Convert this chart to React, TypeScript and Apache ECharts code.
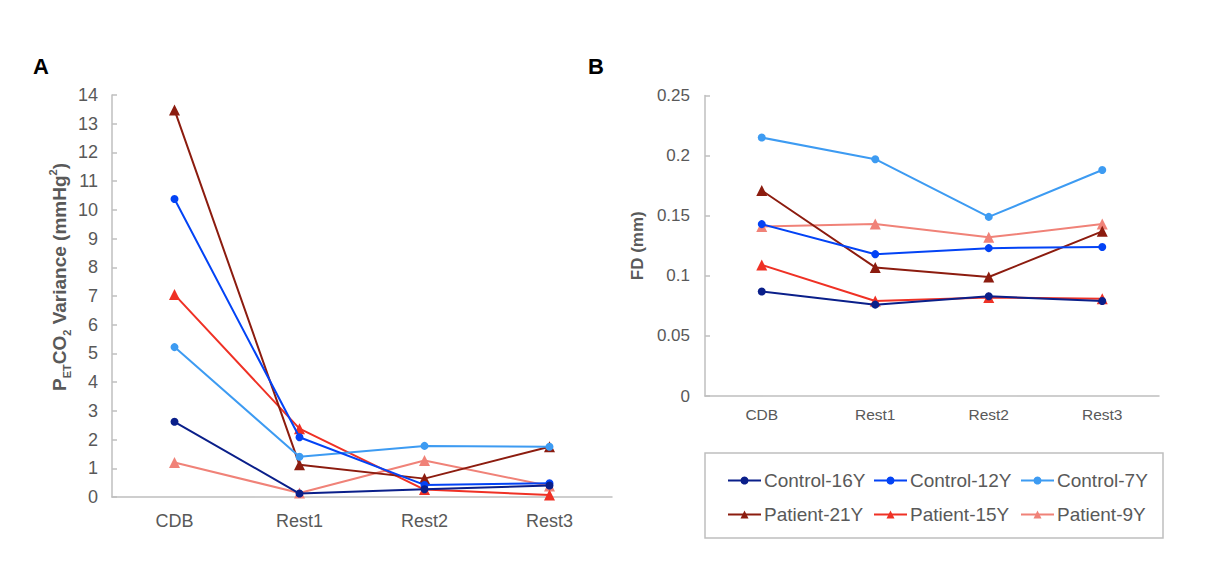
import React, { useEffect, useRef } from "react";
import * as echarts from "echarts";

const categories = ["CDB", "Rest1", "Rest2", "Rest3"];
const seriesNames = ["Control-16Y", "Control-12Y", "Control-7Y", "Patient-21Y", "Patient-15Y", "Patient-9Y"];
const seriesColors = ["#0a1f8a", "#0343f5", "#3d9bf2", "#8c1c0f", "#ef3125", "#f08278"];
const seriesSymbols = ["circle", "circle", "circle", "triangle", "triangle", "triangle"];

// Panel A: PETCO2 variance (mmHg^2)
const varControl16 = [2.62, 0.12, 0.27, 0.4];
const varControl12 = [10.38, 2.08, 0.42, 0.48];
const varControl7 = [5.22, 1.4, 1.78, 1.75];
const varPatient21 = [13.48, 1.12, 0.64, 1.75];
const varPatient15 = [7.05, 2.38, 0.26, 0.07];
const varPatient9 = [1.2, 0.14, 1.27, 0.38];

// Panel B: FD (mm)
const fdControl16 = [0.087, 0.076, 0.083, 0.079];
const fdControl12 = [0.143, 0.118, 0.123, 0.124];
const fdControl7 = [0.215, 0.197, 0.149, 0.188];
const fdPatient21 = [0.171, 0.107, 0.099, 0.137];
const fdPatient15 = [0.109, 0.079, 0.082, 0.081];
const fdPatient9 = [0.141, 0.143, 0.132, 0.143];

const yTicksA = { min: 0, max: 14, interval: 1 };
const yTicksB = { min: 0, max: 0.25, interval: 0.05 };

const FONT = "'Liberation Sans', Arial, Helvetica, sans-serif";
const GREY = "#595959";
const AXIS = "#bfbfbf";

export default function App() {
  const ref = useRef<HTMLDivElement>(null);

  useEffect(() => {
    document.body.style.margin = "0";
    if (!ref.current) return;
    const chart = echarts.init(ref.current, undefined, { renderer: "svg" });

    const dataA = [varControl16, varControl12, varControl7, varPatient21, varPatient15, varPatient9];
    const dataB = [fdControl16, fdControl12, fdControl7, fdPatient21, fdPatient15, fdPatient9];

    const mkSeries = (data: number[][], idx: number) =>
      data.map((d, i) => ({
        type: "line",
        name: seriesNames[i],
        xAxisIndex: idx,
        yAxisIndex: idx,
        data: d,
        symbol: seriesSymbols[i],
        symbolSize: seriesSymbols[i] === "circle" ? 8 : 11,
        showSymbol: true,
        lineStyle: { color: seriesColors[i], width: 2 },
        itemStyle: { color: seriesColors[i] },
        z: 10 - i,
      }));

    const legendPos = [
      [727, 471],
      [873, 471],
      [1020, 471],
      [727, 505],
      [873, 505],
      [1020, 505],
    ];

    const legends = seriesNames.map((n, i) => ({
      data: [n],
      left: legendPos[i][0],
      top: legendPos[i][1],
      orient: "horizontal",
      padding: 0,
      itemWidth: 33,
      itemHeight: 10,
      itemGap: 0,
      selectedMode: false,
      textStyle: { fontFamily: FONT, fontSize: 19, color: GREY, padding: [0, 0, 0, -2] },
    }));

    const richName = {
      b: { fontFamily: FONT, fontSize: 19, fontWeight: "bold", color: GREY, lineHeight: 25 },
      s: { fontFamily: FONT, fontSize: 11, fontWeight: "bold", color: GREY, verticalAlign: "bottom", lineHeight: 14 },
      p: { fontFamily: FONT, fontSize: 11, fontWeight: "bold", color: GREY, verticalAlign: "top", lineHeight: 17 },
    };

    const option: any = {
      animation: false,
      backgroundColor: "#ffffff",
      textStyle: { fontFamily: FONT },
      legend: legends,
      grid: [
        { left: 112, top: 95, width: 500, height: 402, containLabel: false },
        { left: 705, top: 95.5, width: 454, height: 300.5, containLabel: false },
      ],
      xAxis: [
        {
          type: "category",
          gridIndex: 0,
          data: categories,
          boundaryGap: true,
          axisLine: { lineStyle: { color: AXIS, width: 1.5 } },
          axisTick: { show: false },
          axisLabel: { fontFamily: FONT, fontSize: 18, color: GREY, margin: 15 },
        },
        {
          type: "category",
          gridIndex: 1,
          data: categories,
          boundaryGap: true,
          axisLine: { lineStyle: { color: AXIS, width: 1.5 } },
          axisTick: { show: false },
          axisLabel: { fontFamily: FONT, fontSize: 15.5, color: GREY, margin: 10 },
        },
      ],
      yAxis: [
        {
          type: "value",
          gridIndex: 0,
          ...yTicksA,
          name: "{b|P}{s|ET}{b|CO}{s|2}{b| Variance (mmHg}{p|2}{b|)}",
          nameLocation: "middle",
          nameRotate: 90,
          nameGap: 40,
          nameTextStyle: { rich: richName, padding: [0, 0, 0, 38] },
          axisLine: { show: true, lineStyle: { color: AXIS, width: 1.5 } },
          axisTick: { show: true, inside: true, length: 5, lineStyle: { color: AXIS, width: 1.5 } },
          splitLine: { show: false },
          axisLabel: { fontFamily: FONT, fontSize: 18, color: GREY, margin: 14 },
        },
        {
          type: "value",
          gridIndex: 1,
          ...yTicksB,
          name: "FD (mm)",
          nameLocation: "middle",
          nameRotate: 90,
          nameGap: 59,
          nameTextStyle: { fontFamily: FONT, fontSize: 17, fontWeight: "bold", color: GREY },
          axisLine: { show: true, lineStyle: { color: AXIS, width: 1.5 } },
          axisTick: { show: true, inside: true, length: 5, lineStyle: { color: AXIS, width: 1.5 } },
          splitLine: { show: false },
          axisLabel: { fontFamily: FONT, fontSize: 17, color: GREY, margin: 15 },
        },
      ],
      graphic: [
        {
          type: "text",
          left: 33,
          top: 55,
          style: { text: "A", font: `bold 22px ${FONT}`, fill: "#000000" },
        },
        {
          type: "text",
          left: 588,
          top: 55,
          style: { text: "B", font: `bold 22px ${FONT}`, fill: "#000000" },
        },
        {
          type: "rect",
          shape: { x: 705, y: 453, width: 458, height: 85 },
          style: { fill: "none", stroke: AXIS, lineWidth: 1.5 },
          z: -1,
        },
      ],
      series: [...mkSeries(dataA, 0), ...mkSeries(dataB, 1)],
    };

    chart.setOption(option);
    return () => chart.dispose();
  }, []);

  return <div ref={ref} style={{ width: 1220, height: 588 }} />;
}
